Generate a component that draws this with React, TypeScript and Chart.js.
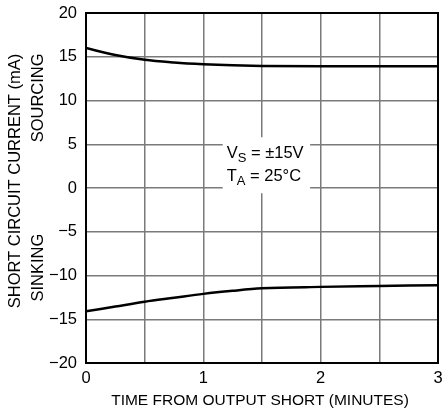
import React, { useEffect, useRef } from "react";
import { Chart, registerables } from "chart.js";

Chart.register(...registerables);

const timeMinutes = [0, 0.25, 0.5, 0.75, 1, 1.25, 1.5, 2, 2.5, 3];
const sourcingCurrent = [16, 15.2, 14.65, 14.35, 14.15, 14.02, 13.95, 13.92, 13.92, 13.92];
const sinkingCurrent = [-14.1, -13.55, -13.0, -12.55, -12.1, -11.75, -11.47, -11.3, -11.2, -11.1];
const xTickLabels = ["0", "1", "2", "3"];
const xTitle = "TIME FROM OUTPUT SHORT (MINUTES)";
const yTitle = "SHORT CIRCUIT CURRENT (mA)";
const sourcingLabel = "SOURCING";
const sinkingLabel = "SINKING";

const FONT = "'Liberation Sans', Arial, sans-serif";

const decorPlugin = {
  id: "decor",
  beforeDatasetsDraw(chart: any) {
    const { ctx, scales } = chart;
    const xs = scales.x;
    const ys = scales.y;
    const bx0 = xs.getPixelForValue(1.165);
    const bx1 = xs.getPixelForValue(1.91);
    const by0 = ys.getPixelForValue(5.8);
    const by1 = ys.getPixelForValue(-0.6);
    ctx.save();
    ctx.fillStyle = "#ffffff";
    ctx.fillRect(bx0, by0, bx1 - bx0, by1 - by0);
    ctx.fillStyle = "#000";
    ctx.textBaseline = "alphabetic";
    ctx.textAlign = "left";
    const tx = bx0 + 4;
    const big = "16.5px " + FONT;
    const small = "13px " + FONT;
    const y1 = ys.getPixelForValue(3.43);
    const y2 = ys.getPixelForValue(0.8);
    ctx.font = big;
    ctx.fillText("V", tx, y1);
    let w = ctx.measureText("V").width;
    ctx.font = small;
    ctx.fillText("S", tx + w, y1 + 4);
    let w2 = ctx.measureText("S").width;
    ctx.font = big;
    ctx.fillText(" = \u00B115V", tx + w + w2, y1);
    ctx.fillText("T", tx, y2);
    w = ctx.measureText("T").width;
    ctx.font = small;
    ctx.fillText("A", tx + w, y2 + 4);
    w2 = ctx.measureText("A").width;
    ctx.font = big;
    ctx.fillText(" = 25\u00B0C", tx + w + w2, y2);
    ctx.restore();
  },
  afterDraw(chart: any) {
    const { ctx, chartArea, scales } = chart;
    const ys = scales.y;
    ctx.save();
    ctx.fillStyle = "#000";
    ctx.textAlign = "center";
    ctx.textBaseline = "middle";
    ctx.font = "15.5px " + FONT;
    ctx.fillText(xTitle, (chartArea.left + chartArea.right) / 2 - 2, chartArea.bottom + 38);
    const drawRot = (text: string, x: number, y: number) => {
      ctx.save();
      ctx.translate(x, y);
      ctx.rotate(-Math.PI / 2);
      ctx.fillText(text, 0, 0);
      ctx.restore();
    };
    ctx.font = "16.5px " + FONT;
    drawRot(yTitle, 15, ys.getPixelForValue(0.8));
    drawRot(sourcingLabel, 38, ys.getPixelForValue(10.3));
    drawRot(sinkingLabel, 38, ys.getPixelForValue(-9.1));
    ctx.strokeStyle = "#000";
    ctx.lineWidth = 2;
    ctx.strokeRect(chartArea.left, chartArea.top, chartArea.right - chartArea.left, chartArea.bottom - chartArea.top);
    ctx.restore();
  },
};

export default function App() {
  const ref = useRef<HTMLCanvasElement>(null);
  useEffect(() => {
    document.body.style.margin = "0";
    const canvas = ref.current!;
    const mk = (label: string, vals: number[]) => ({
      label,
      data: timeMinutes.map((t, i) => ({ x: t, y: vals[i] })),
      borderColor: "#000",
      borderWidth: 2.5,
      pointRadius: 0,
      tension: 0.4,
      cubicInterpolationMode: "monotone" as const,
    });
    const chart = new Chart(canvas, {
      type: "line",
      data: {
        datasets: [mk("Sourcing", sourcingCurrent), mk("Sinking", sinkingCurrent)],
      },
      options: {
        animation: false,
        responsive: false,
        maintainAspectRatio: false,
        layout: { padding: { top: 13, right: 4, left: 0, bottom: 0 } },
        plugins: { legend: { display: false }, tooltip: { enabled: false } },
        scales: {
          x: {
            type: "linear",
            min: 0,
            max: 3,
            border: { display: false },
            grid: { color: "#7a7a7a", lineWidth: 1.5, drawTicks: false },
            ticks: {
              stepSize: 0.5,
              padding: 6,
              color: "#000",
              font: { family: FONT, size: 16.5 },
              maxRotation: 0,
              autoSkip: false,
              callback: (v: any) => {
                const i = xTickLabels.indexOf(String(v));
                return i >= 0 ? xTickLabels[i] : "";
              },
            },
            afterFit: (s: any) => {
              s.height = 55;
              s.paddingLeft = 0;
              s.paddingRight = 0;
            },
          },
          y: {
            min: -20,
            max: 20,
            border: { display: false },
            grid: { color: "#7a7a7a", lineWidth: 1.5, drawTicks: false },
            ticks: {
              stepSize: 5,
              padding: 9,
              color: "#000",
              font: { family: FONT, size: 16.5 },
              callback: (v: any) => String(v).replace("-", "\u2212"),
            },
            afterFit: (s: any) => {
              s.width = 86;
              s.paddingTop = 0;
              s.paddingBottom = 0;
            },
          },
        },
      },
      plugins: [decorPlugin],
    });
    return () => chart.destroy();
  }, []);
  return (
    <div style={{ width: 442, height: 418, background: "#fff" }}>
      <canvas ref={ref} width={442} height={418} style={{ display: "block" }} />
    </div>
  );
}
